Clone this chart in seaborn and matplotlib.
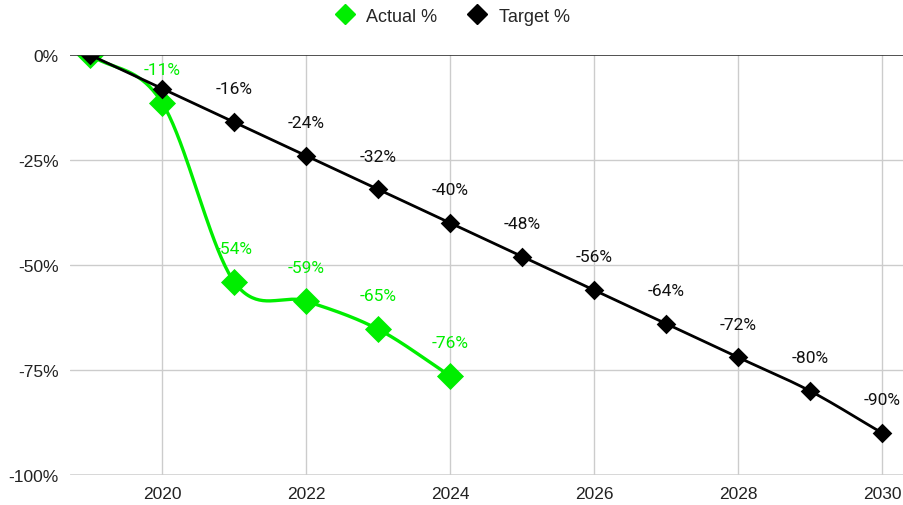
import numpy as np
import pandas as pd
import matplotlib
matplotlib.use("Agg")
import matplotlib.pyplot as plt
import seaborn as sns
from matplotlib.lines import Line2D

# ---- data ----
actual_years = [2019, 2020, 2021, 2022, 2023, 2024]
actual_pct = [0.0, -11.4, -54.0, -58.6, -65.3, -76.4]
actual_labels = ["", "-11%", "-54%", "-59%", "-65%", "-76%"]

target_years = [2019, 2020, 2021, 2022, 2023, 2024, 2025, 2026, 2027, 2028, 2029, 2030]
target_pct = [0, -8, -16, -24, -32, -40, -48, -56, -64, -72, -80, -90]
target_labels = ["", "", "-16%", "-24%", "-32%", "-40%", "-48%", "-56%", "-64%", "-72%", "-80%", "-90%"]

y_ticks = [0, -25, -50, -75, -100]
y_tick_labels = ["0%", "-25%", "-50%", "-75%", "-100%"]
x_ticks = [2020, 2022, 2024, 2026, 2028, 2030]

GREEN = "#00ee00"
BLACK = "#000000"


def smooth(xs, ys, n=40):
    """Cubic Hermite (Catmull-Rom) rendering of the line through the data points."""
    xs = np.asarray(xs, float)
    ys = np.asarray(ys, float)
    m = np.zeros_like(ys)
    m[1:-1] = (ys[2:] - ys[:-2]) / (xs[2:] - xs[:-2])
    m[0] = (ys[1] - ys[0]) / (xs[1] - xs[0])
    m[-1] = (ys[-1] - ys[-2]) / (xs[-1] - xs[-2])
    ox, oy = [], []
    for i in range(len(xs) - 1):
        h = xs[i + 1] - xs[i]
        t = np.linspace(0, 1, n, endpoint=False)
        h00 = 2 * t**3 - 3 * t**2 + 1
        h10 = t**3 - 2 * t**2 + t
        h01 = -2 * t**3 + 3 * t**2
        h11 = t**3 - t**2
        ox.append(xs[i] + t * h)
        oy.append(h00 * ys[i] + h10 * h * m[i] + h01 * ys[i + 1] + h11 * h * m[i + 1])
    ox.append([xs[-1]])
    oy.append([ys[-1]])
    return np.concatenate(ox), np.concatenate(oy)


sns.set_theme(style="white")
plt.rcParams["font.family"] = ["Liberation Sans", "DejaVu Sans"]

fig = plt.figure(figsize=(9.04, 5.06), dpi=100)
ax = fig.add_axes([70 / 904, 1 - 476 / 506, 833 / 904, 420 / 506])

df_a = pd.DataFrame({"year": actual_years, "pct": actual_pct})
df_t = pd.DataFrame({"year": target_years, "pct": target_pct})

# grid
for yv in y_ticks:
    if yv == 0:
        continue
    ax.axhline(yv, color="#cccccc", lw=1.0 if yv != -100 else 1.8, zorder=0)
for xv in x_ticks:
    ax.axvline(xv, color="#cccccc", lw=1.0, zorder=0)
ax.axhline(0, color="#333333", lw=1.2, zorder=8)

# actual line (below target)
axx, axy = smooth(actual_years, actual_pct)
ax.plot(axx, axy, color=GREEN, lw=2.4, zorder=3)
sns.scatterplot(data=df_a, x="year", y="pct", marker="D", s=190, color=GREEN,
                edgecolor=GREEN, linewidth=0, zorder=4, ax=ax)

# target line
tx, ty = smooth(target_years, target_pct)
ax.plot(tx, ty, color=BLACK, lw=2.0, zorder=5)
sns.scatterplot(data=df_t, x="year", y="pct", marker="D", s=100, color=BLACK,
                edgecolor=BLACK, linewidth=0, zorder=6, ax=ax)

# data labels
for x, y, lab in zip(target_years, target_pct, target_labels):
    if lab:
        ax.annotate(lab, (x, y), xytext=(0, 24), textcoords="offset points",
                    ha="center", va="center", fontsize=12.5, color="#111111",
                    family=["Roboto", "DejaVu Sans"], zorder=7)
for x, y, lab in zip(actual_years, actual_pct, actual_labels):
    if lab:
        ax.annotate(lab, (x, y), xytext=(0, 24), textcoords="offset points",
                    ha="center", va="center", fontsize=12.5, color=GREEN,
                    family=["Roboto", "DejaVu Sans"], zorder=7)

ax.set_xlim(2018.72, 2030.29)
ax.set_ylim(-100, 0)
ax.set_xticks(x_ticks)
ax.set_xticklabels([str(v) for v in x_ticks], fontsize=12.5, color="#222222")
ax.set_yticks(y_ticks)
ax.set_yticklabels(y_tick_labels, fontsize=12.5, color="#222222")
ax.tick_params(axis="both", length=0, pad=8)
ax.set_xlabel("")
ax.set_ylabel("")
for s in ax.spines.values():
    s.set_visible(False)

handles = [
    Line2D([], [], marker="D", color=GREEN, lw=0, markersize=10, label="Actual %"),
    Line2D([], [], marker="D", color=BLACK, lw=0, markersize=10, label="Target %"),
]
fig.legend(handles=handles, loc="center", bbox_to_anchor=(0.5, 1 - 17 / 506),
           ncol=2, frameon=False, fontsize=13, handletextpad=0.6, columnspacing=1.6,
           handlelength=1.2)

fig.savefig("out.png", dpi=100)
